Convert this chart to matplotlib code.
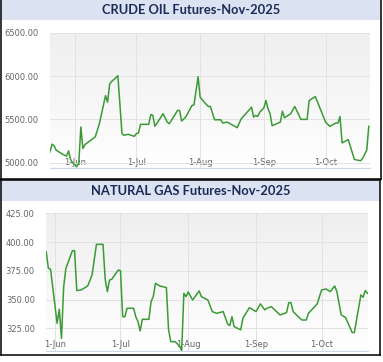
import numpy as np
import matplotlib
matplotlib.use("Agg")
import matplotlib.pyplot as plt
import matplotlib.dates as mdates
from matplotlib.patches import Rectangle
from matplotlib.lines import Line2D
import pandas as pd

# ---------------- data ----------------
crude_dates = ["2025-05-20", "2025-05-21", "2025-05-22", "2025-05-23", "2025-05-26", "2025-05-28",
               "2025-05-29", "2025-05-30", "2025-05-31", "2025-06-02", "2025-06-03", "2025-06-04",
               "2025-06-05", "2025-06-06", "2025-06-11", "2025-06-13", "2025-06-16", "2025-06-17",
               "2025-06-18", "2025-06-19", "2025-06-20", "2025-06-22", "2025-06-24", "2025-06-25",
               "2025-06-27", "2025-06-30", "2025-07-01", "2025-07-02", "2025-07-03", "2025-07-07",
               "2025-07-08", "2025-07-09", "2025-07-10", "2025-07-14", "2025-07-16", "2025-07-17",
               "2025-07-21", "2025-07-22", "2025-07-23", "2025-07-25", "2025-07-28", "2025-07-29",
               "2025-07-31", "2025-08-01", "2025-08-03", "2025-08-05", "2025-08-06", "2025-08-08",
               "2025-08-11", "2025-08-12", "2025-08-14", "2025-08-15", "2025-08-19", "2025-08-21",
               "2025-08-26", "2025-08-27", "2025-08-28", "2025-08-29", "2025-08-30", "2025-09-01",
               "2025-09-02", "2025-09-03", "2025-09-04", "2025-09-05", "2025-09-09", "2025-09-10",
               "2025-09-11", "2025-09-14", "2025-09-16", "2025-09-19", "2025-09-22", "2025-09-23",
               "2025-09-26", "2025-10-01", "2025-10-03", "2025-10-06", "2025-10-07", "2025-10-08",
               "2025-10-09", "2025-10-12", "2025-10-15", "2025-10-18", "2025-10-19", "2025-10-21",
               "2025-10-22"]
crude_values = [5126, 5214, 5195, 5145, 5100, 5076,
                5137, 5038, 5000, 4954, 5000, 5412,
                5164, 5210, 5298, 5450, 5775, 5698,
                5908, 5939, 5958, 6004, 5336, 5317,
                5328, 5305, 5336, 5343, 5443, 5443,
                5557, 5546, 5420, 5565, 5469, 5450,
                5603, 5603, 5481, 5527, 5660, 5668,
                5992, 5756, 5698, 5649, 5649, 5496,
                5496, 5458, 5469, 5458, 5405, 5508,
                5641, 5527, 5546, 5534, 5584, 5634,
                5718, 5622, 5565, 5427, 5469, 5595,
                5519, 5565, 5649, 5500, 5500, 5718,
                5763, 5469, 5420, 5458, 5458, 5534,
                5229, 5267, 5038, 5023, 5050, 5145,
                5420]

gas_dates = ["2025-05-28", "2025-05-29", "2025-05-30", "2025-06-02", "2025-06-03", "2025-06-04",
             "2025-06-05", "2025-06-06", "2025-06-09", "2025-06-10", "2025-06-11", "2025-06-13",
             "2025-06-16", "2025-06-18", "2025-06-20", "2025-06-23", "2025-06-24", "2025-06-25",
             "2025-06-26", "2025-06-27", "2025-06-30", "2025-07-01", "2025-07-02", "2025-07-03",
             "2025-07-04", "2025-07-07", "2025-07-08", "2025-07-09", "2025-07-10", "2025-07-11",
             "2025-07-14", "2025-07-15", "2025-07-16", "2025-07-17", "2025-07-19", "2025-07-22",
             "2025-07-23", "2025-07-24", "2025-07-26", "2025-07-28", "2025-07-29", "2025-07-30",
             "2025-07-31", "2025-08-01", "2025-08-03", "2025-08-06", "2025-08-07", "2025-08-10",
             "2025-08-12", "2025-08-14", "2025-08-17", "2025-08-19", "2025-08-20", "2025-08-21",
             "2025-08-22", "2025-08-25", "2025-08-26", "2025-08-29", "2025-09-01", "2025-09-03",
             "2025-09-05", "2025-09-06", "2025-09-08", "2025-09-12", "2025-09-15", "2025-09-16",
             "2025-09-17", "2025-09-18", "2025-09-20", "2025-09-22", "2025-09-24", "2025-09-25",
             "2025-09-29", "2025-10-01", "2025-10-03", "2025-10-05", "2025-10-07", "2025-10-08",
             "2025-10-10", "2025-10-12", "2025-10-15", "2025-10-16", "2025-10-19", "2025-10-20",
             "2025-10-21", "2025-10-22"]
gas_values = [391.7, 377.2, 376.3, 329.3, 341.5, 316.3,
              361.0, 377.0, 392.5, 392.5, 357.8, 358.3,
              361.8, 371.4, 398.0, 398.0, 367.6, 356.9,
              367.0, 367.6, 375.7, 375.0, 335.1, 335.1,
              342.4, 342.4, 335.0, 330.8, 322.7, 332.8,
              332.8, 348.2, 352.5, 364.1, 361.8, 360.4,
              323.6, 313.4, 313.4, 309.6, 305.6, 355.4,
              352.5, 356.6, 349.6, 357.5, 352.5, 349.6,
              339.5, 338.0, 339.5, 328.8, 327.3, 335.1,
              326.4, 323.6, 333.7, 343.0, 339.5, 346.2,
              341.0, 342.4, 343.8, 336.6, 338.6, 347.3,
              347.3, 339.5, 335.7, 332.2, 332.2, 338.0,
              346.2, 358.3, 359.2, 356.9, 361.8, 356.9,
              336.6, 334.3, 321.3, 321.3, 354.0, 352.0,
              357.8, 355.4]

crude_title = "CRUDE OIL Futures-Nov-2025"
gas_title = "NATURAL GAS Futures-Nov-2025"
crude_yticks = [5000, 5500, 6000, 6500]
gas_yticks = [325, 350, 375, 400, 425]

# ---------------- figure ----------------
W, H = 383, 362
fig = plt.figure(figsize=(W / 100, H / 100), dpi=100)
fig.patch.set_facecolor("white")

def fx(px):
    return px / W

def fy(py):
    return 1 - py / H

TITLE_BG = "#dbe3f3"
TITLE_FG = "#1c2a57"
LINE_C = "#3a9a34"

def border_line(xs, ys):
    fig.lines.append(Line2D([fx(v) for v in xs], [fy(v) for v in ys],
                            transform=fig.transFigure, color="black", linewidth=1.1, zorder=5))

def panel(top, bottom, right, title_h, title, draw_top):
    fig.patches.append(Rectangle((fx(0), fy(top + title_h)), fx(right), title_h / H,
                                 transform=fig.transFigure, facecolor=TITLE_BG,
                                 edgecolor="none", zorder=0))
    border_line([0.8, 0.8], [top, bottom])
    border_line([right, right], [top, bottom])
    border_line([0.8, right], [bottom, bottom])
    if draw_top:
        border_line([0.8, right], [top, top])
    fig.text(fx(right / 2 + 1), fy(top + title_h / 2 + 0.5), title, ha="center", va="center",
             fontsize=9.3, fontweight="bold", color=TITLE_FG, family="Lato")

def chart(ax, dates, values, ylim, yticks, xlim, xpad):
    d = pd.to_datetime(dates)
    ax.set_xlim(pd.Timestamp(xlim[0]), pd.Timestamp(xlim[1]))
    ax.set_ylim(*ylim)
    grad = np.linspace(0, 1, 256).reshape(-1, 1)
    cmap = matplotlib.colors.LinearSegmentedColormap.from_list(
        "bg", [(0, "#ffffff"), (0.4, "#f8f8f8"), (1, "#efefef")])
    ax.imshow(grad, aspect="auto", cmap=cmap, origin="lower",
              extent=[0, 1, 0, 1], transform=ax.transAxes, zorder=0)
    ax.plot(d, values, color=LINE_C, linewidth=1.1, zorder=3)
    ax.set_yticks(yticks)
    ax.yaxis.set_major_formatter(matplotlib.ticker.FormatStrFormatter("%.2f"))
    ax.xaxis.set_major_locator(mdates.MonthLocator())
    ax.xaxis.set_major_formatter(mdates.DateFormatter("%-d-%b"))
    ax.grid(True, color="#e2e2e2", linewidth=0.7, zorder=1)
    ax.set_axisbelow(True)
    for s in ["top", "right", "left"]:
        ax.spines[s].set_visible(False)
    ax.spines["bottom"].set_color("#ccd6eb")
    ax.spines["bottom"].set_linewidth(0.8)
    ax.tick_params(axis="y", length=0, labelsize=6, labelcolor="#666666", pad=8)
    ax.tick_params(axis="x", length=0, labelsize=6, labelcolor="#666666", pad=xpad)

# top panel
panel(0, 179, 381, 20, crude_title, False)
ax1 = fig.add_axes([fx(50), fy(168.3), fx(320), (168.3 - 32.7) / H])
chart(ax1, crude_dates, crude_values, (4936, 6500), crude_yticks,
      ("2025-05-20", "2025-10-22 14:00"), -7.5)

# bottom panel
panel(180, 355, 380, 21, gas_title, True)
ax2 = fig.add_axes([fx(46), fy(350.7), fx(322), (350.7 - 213.3) / H])
chart(ax2, gas_dates, gas_values, (305.5, 425), gas_yticks,
      ("2025-05-27 22:00", "2025-10-22 06:00"), -8)

fig.savefig("out.png", dpi=100)
